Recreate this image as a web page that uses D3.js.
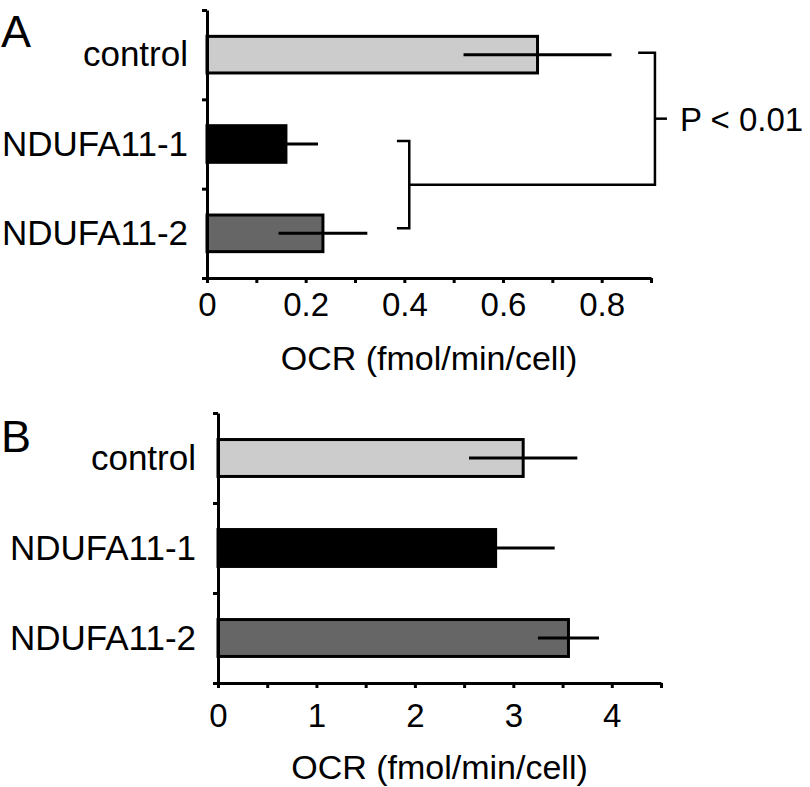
<!DOCTYPE html>
<html>
<head>
<meta charset="utf-8">
<script src="https://cdn.jsdelivr.net/npm/d3@7"></script>
<style>
  body { margin: 0; background: #fff; }
  svg text { font-family: "Liberation Sans", Arial, Helvetica, sans-serif; fill: #000; }
</style>
</head>
<body>
<svg id="chart" width="810" height="787"></svg>
<script>
// data
const categories = ["control", "NDUFA11-1", "NDUFA11-2"];
const barColors = ["#cccccc", "#000000", "#666666"];

const ocrA = [0.67, 0.16, 0.235];
const errA = [0.15, 0.065, 0.09];
const ticksA = [0, 0.1, 0.2, 0.3, 0.4, 0.5, 0.6, 0.7, 0.8, 0.9];
const labelsA = [0, 0.2, 0.4, 0.6, 0.8];

const ocrB = [3.1, 2.82, 3.56];
const errB = [0.55, 0.6, 0.31];
const ticksB = [0, 0.5, 1, 1.5, 2, 2.5, 3, 3.5, 4, 4.5];
const labelsB = [0, 1, 2, 3, 4];

const xTitle = "OCR (fmol/min/cell)";
const pText = "P < 0.01";

var svg = d3.select("#chart");

const drawPanel = (opt) => {
  var x = d3.scaleLinear().domain(opt.domain).range([opt.left, opt.right]);
  var y = d3.scaleBand().domain(categories).range([opt.top, opt.bottom])
    .paddingInner(0.59).paddingOuter(0.295);
  var yEdge = d3.scaleLinear().domain([0, categories.length]).range([opt.top, opt.bottom]);

  var g = svg.append("g");

  // bars
  g.selectAll("rect.bar")
    .data(opt.values)
    .join("rect")
    .attr("class", "bar")
    .attr("x", x(0))
    .attr("y", (d, i) => y(categories[i]))
    .attr("width", d => x(d) - x(0))
    .attr("height", y.bandwidth())
    .attr("fill", (d, i) => barColors[i])
    .attr("stroke", "#000")
    .attr("stroke-width", 3);

  // error bars (no caps)
  g.selectAll("line.err")
    .data(opt.values)
    .join("line")
    .attr("class", "err")
    .attr("x1", (d, i) => x(d - opt.errors[i]))
    .attr("x2", (d, i) => x(d + opt.errors[i]))
    .attr("y1", (d, i) => y(categories[i]) + y.bandwidth() / 2)
    .attr("y2", (d, i) => y(categories[i]) + y.bandwidth() / 2)
    .attr("stroke", "#000")
    .attr("stroke-width", 3);

  // x axis
  var xAxis = d3.axisBottom(x)
    .tickValues(opt.ticks)
    .tickSize(5)
    .tickSizeOuter(0)
    .tickPadding(opt.tickPad)
    .tickFormat(d => opt.labels.some(v => Math.abs(v - d) < 1e-9) ? d3.format("")(+d.toFixed(2)) : "");

  var xg = g.append("g")
    .attr("transform", "translate(0," + opt.bottom + ")")
    .call(xAxis);
  xg.select(".domain").attr("stroke-width", 3);
  xg.selectAll(".tick line").attr("stroke-width", 3);
  xg.selectAll(".tick text")
    .attr("font-size", 33)
    .attr("font-family", null);

  // y axis: ticks at category boundaries
  var yAxis = d3.axisLeft(yEdge)
    .tickValues(d3.range(categories.length + 1))
    .tickSize(5)
    .tickSizeOuter(0)
    .tickFormat("");
  var yg = g.append("g")
    .attr("transform", "translate(" + opt.left + ",0)")
    .call(yAxis);
  yg.select(".domain").attr("stroke-width", 3);
  yg.selectAll(".tick line").attr("stroke-width", 3);

  // category labels
  g.selectAll("text.cat")
    .data(categories)
    .join("text")
    .attr("class", "cat")
    .attr("x", opt.left - opt.labelGap)
    .attr("y", d => y(d) + y.bandwidth() / 2)
    .attr("dy", "0.33em")
    .attr("text-anchor", "end")
    .attr("font-size", 35)
    .text(d => d);

  // axis title
  g.append("text")
    .attr("x", (opt.left + opt.right) / 2)
    .attr("y", opt.bottom + opt.titleOffset)
    .attr("text-anchor", "middle")
    .attr("font-size", 34)
    .text(xTitle);

  // panel letter
  g.append("text")
    .attr("x", 1)
    .attr("y", opt.letterY)
    .attr("font-size", 45)
    .text(opt.letter);

  return { g: g, x: x, y: y };
};

var A = drawPanel({
  letter: "A", letterY: 47,
  domain: [0, 0.9], left: 207, right: 651, top: 10, bottom: 278,
  values: ocrA, errors: errA, ticks: ticksA, labels: labelsA,
  tickPad: 10, titleOffset: 92, labelGap: 19
});

drawPanel({
  letter: "B", letterY: 452,
  domain: [0, 4.5], left: 218, right: 661, top: 413, bottom: 683,
  values: ocrB, errors: errB, ticks: ticksB, labels: labelsB,
  tickPad: 16, titleOffset: 96, labelGap: 22
});

// significance brackets in panel A
var xA = A.x, yA = A.y;
var mid = c => yA(c) + yA.bandwidth() / 2;
var innerTop = mid(categories[1]) - 3;
var innerBot = mid(categories[2]) - 5;
var innerMid = (innerTop + innerBot) / 2;
var outerTop = mid(categories[0]) - 2;
var outerMid = (outerTop + innerMid) / 2;

var bracket = d3.line();
A.g.append("path")
  .attr("d", bracket([[xA(0.385), innerTop], [xA(0.41), innerTop], [xA(0.41), innerBot], [xA(0.385), innerBot]]))
  .attr("fill", "none").attr("stroke", "#000").attr("stroke-width", 2.5);
A.g.append("path")
  .attr("d", bracket([[xA(0.41), innerMid], [xA(0.908), innerMid], [xA(0.908), outerTop], [xA(0.874), outerTop]]))
  .attr("fill", "none").attr("stroke", "#000").attr("stroke-width", 2.5);
A.g.append("line")
  .attr("x1", xA(0.908)).attr("x2", xA(0.908) + 12)
  .attr("y1", outerMid).attr("y2", outerMid)
  .attr("stroke", "#000").attr("stroke-width", 2.5);
A.g.append("text")
  .attr("x", xA(0.908) + 25)
  .attr("y", outerMid)
  .attr("dy", "0.36em")
  .attr("font-size", 33)
  .text(pText);
</script>
</body>
</html>
